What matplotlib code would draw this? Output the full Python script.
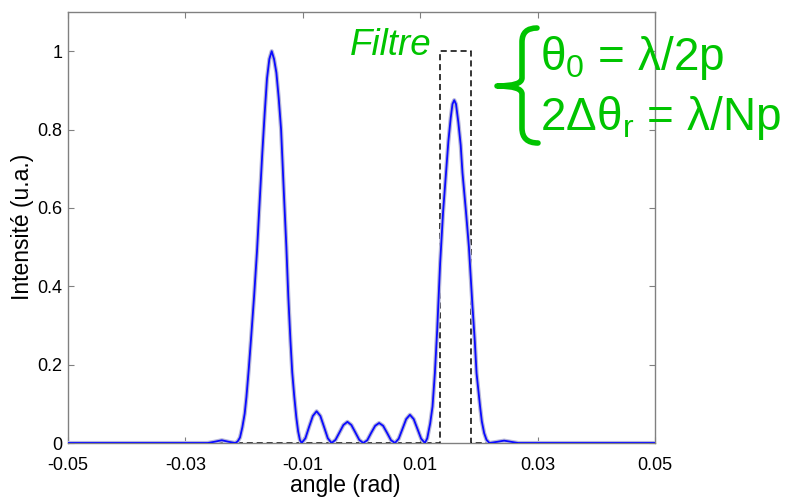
# %% Imports

import matplotlib
matplotlib.use('Agg')
import matplotlib.pyplot as plt
from matplotlib.path import Path
from matplotlib.patches import PathPatch

plt.rcParams['font.family'] = ['Liberation Sans', 'DejaVu Sans']
plt.rcParams['mathtext.fontset'] = 'custom'
plt.rcParams['mathtext.rm'] = 'Liberation Sans'

# %% Data

# Diffracted intensity vs angle
angle = [-0.05, -0.0262, -0.0251, -0.0238, -0.0226, -0.0215,
         -0.0211, -0.0207, -0.0203, -0.0199, -0.0196, -0.0192, -0.0188, -0.0183,
         -0.0178, -0.0173, -0.0169, -0.0165, -0.0161, -0.0157, -0.0153, -0.0149,
         -0.0145, -0.0141, -0.0137, -0.0132, -0.0128, -0.01247, -0.0121, -0.0118,
         -0.01145, -0.0111, -0.0108, -0.0105, -0.0102,
         -0.00956, -0.00893, -0.00829, -0.00765, -0.00701, -0.00638, -0.00574, -0.0051,
         -0.00443, -0.00375, -0.00308, -0.0024, -0.00173, -0.00105, -0.00038, 0.0003,
         0.00098, 0.00165, 0.00233, 0.0030, 0.00368, 0.00435, 0.00503, 0.0057,
         0.00634, 0.00698, 0.00761, 0.00825, 0.00889, 0.00953, 0.01016, 0.0108,
         0.0112, 0.0117, 0.0121, 0.0125, 0.0129, 0.0134, 0.0139, 0.0144, 0.0148,
         0.0152, 0.0155, 0.0158, 0.0161, 0.0165, 0.0169, 0.0172, 0.0178, 0.0183,
         0.0189, 0.0193, 0.0196, 0.0202, 0.0205, 0.0209, 0.0213, 0.0218,
         0.0231, 0.0243, 0.0255, 0.0267, 0.05]
intensity = [0, 0, 0.003, 0.007, 0.003, 0,
             0.004, 0.014, 0.04, 0.075, 0.118, 0.19, 0.27, 0.374,
             0.49, 0.63, 0.74, 0.84, 0.93, 0.98, 1.0, 0.98,
             0.945, 0.88, 0.80, 0.63, 0.50, 0.374, 0.26, 0.18,
             0.118, 0.065, 0.03, 0.008, 0,
             0.012, 0.041, 0.069, 0.081, 0.069, 0.041, 0.012, 0,
             0.008, 0.027, 0.046, 0.054, 0.046, 0.027, 0.008, 0,
             0.007, 0.026, 0.044, 0.051, 0.044, 0.026, 0.007, 0,
             0.011, 0.036, 0.061, 0.072, 0.061, 0.036, 0.011, 0,
             0.012, 0.05, 0.093, 0.178, 0.29, 0.46, 0.59, 0.69, 0.77,
             0.83, 0.865, 0.875, 0.865, 0.818, 0.76, 0.69, 0.59, 0.50,
             0.35, 0.26, 0.178, 0.093, 0.055, 0.025, 0.008, 0,
             0.003, 0.006, 0.003, 0, 0]

# Angular filter (window)
filter_angle = [-0.05, 0.0134, 0.0134, 0.0187, 0.0187, 0.05]
filter_value = [0, 0, 1, 1, 0, 0]

x_ticks = [-0.05, -0.03, -0.01, 0.01, 0.03, 0.05]
x_tick_labels = ['-0.05', '-0.03', '-0.01', '0.01', '0.03', '0.05']
y_ticks = [0, 0.2, 0.4, 0.6, 0.8, 1]
y_tick_labels = ['0', '0.2', '0.4', '0.6', '0.8', '1']

# %% Figure

W, H = 792, 497
fig = plt.figure(figsize=(W / 100, H / 100), dpi=100)
fig.set_facecolor('white')

ax = fig.add_axes([68 / W, 1 - 443 / H, (655 - 68) / W, (443 - 12) / H])

ax.plot(filter_angle, filter_value, color='black', lw=1.1, ls=(0, (4, 2.5)), zorder=2)
ax.plot(angle, intensity, color='#b8b8d8', lw=3.0, solid_joinstyle='round', zorder=3)
ax.plot(angle, intensity, color='#0a0aff', lw=1.3, solid_joinstyle='round', zorder=4)

ax.set_xlim(-0.05, 0.05)
ax.set_ylim(0, 1.1)
ax.set_xticks(x_ticks)
ax.set_xticklabels(x_tick_labels)
ax.set_yticks(y_ticks)
ax.set_yticklabels(y_tick_labels)
ax.tick_params(direction='in', length=4, width=0.8, color='#808080',
               top=True, right=True, labelsize=13)
ax.tick_params(axis='x', pad=10)
ax.tick_params(axis='y', pad=4)
for sp in ax.spines.values():
    sp.set_color('#808080')
    sp.set_linewidth(1.0)

# Axis labels (placed like the original, label slightly left of centre)
fig.text(345 / W, 1 - 492 / H, 'angle (rad)', fontsize=16.5, ha='center', va='baseline')
fig.text(23 / W, 1 - 227 / H, 'Intensité (u.a.)', fontsize=16.5, rotation=90,
         ha='center', va='center')

# %% Annotations

green = '#00c400'
fig.text(350 / W, 1 - 55 / H, 'Filtre', fontsize=26.5, style='italic', color=green)
fig.text(540 / W, 1 - 70 / H, r'$\mathregular{θ_0}$ = λ/2p', fontsize=33, color=green)
fig.text(540 / W, 1 - 130 / H, r'2Δ$\mathregular{θ_r}$ = λ/Np', fontsize=33, color=green)

# Curly brace
pts = [(537, 28), (522, 28), (522, 42), (522, 78), (522, 86), (497, 86),
       (522, 86), (522, 94), (522, 128), (522, 143), (538, 143)]
codes = [Path.MOVETO, Path.CURVE3, Path.CURVE3, Path.LINETO, Path.CURVE3, Path.CURVE3,
         Path.CURVE3, Path.CURVE3, Path.LINETO, Path.CURVE3, Path.CURVE3]
pts = [(px / W, 1 - py / H) for px, py in pts]
brace = PathPatch(Path(pts, codes), transform=fig.transFigure, fill=False,
                  edgecolor=green, lw=4, capstyle='round', joinstyle='round')
fig.patches.append(brace)

fig.savefig('out.png', dpi=100)
